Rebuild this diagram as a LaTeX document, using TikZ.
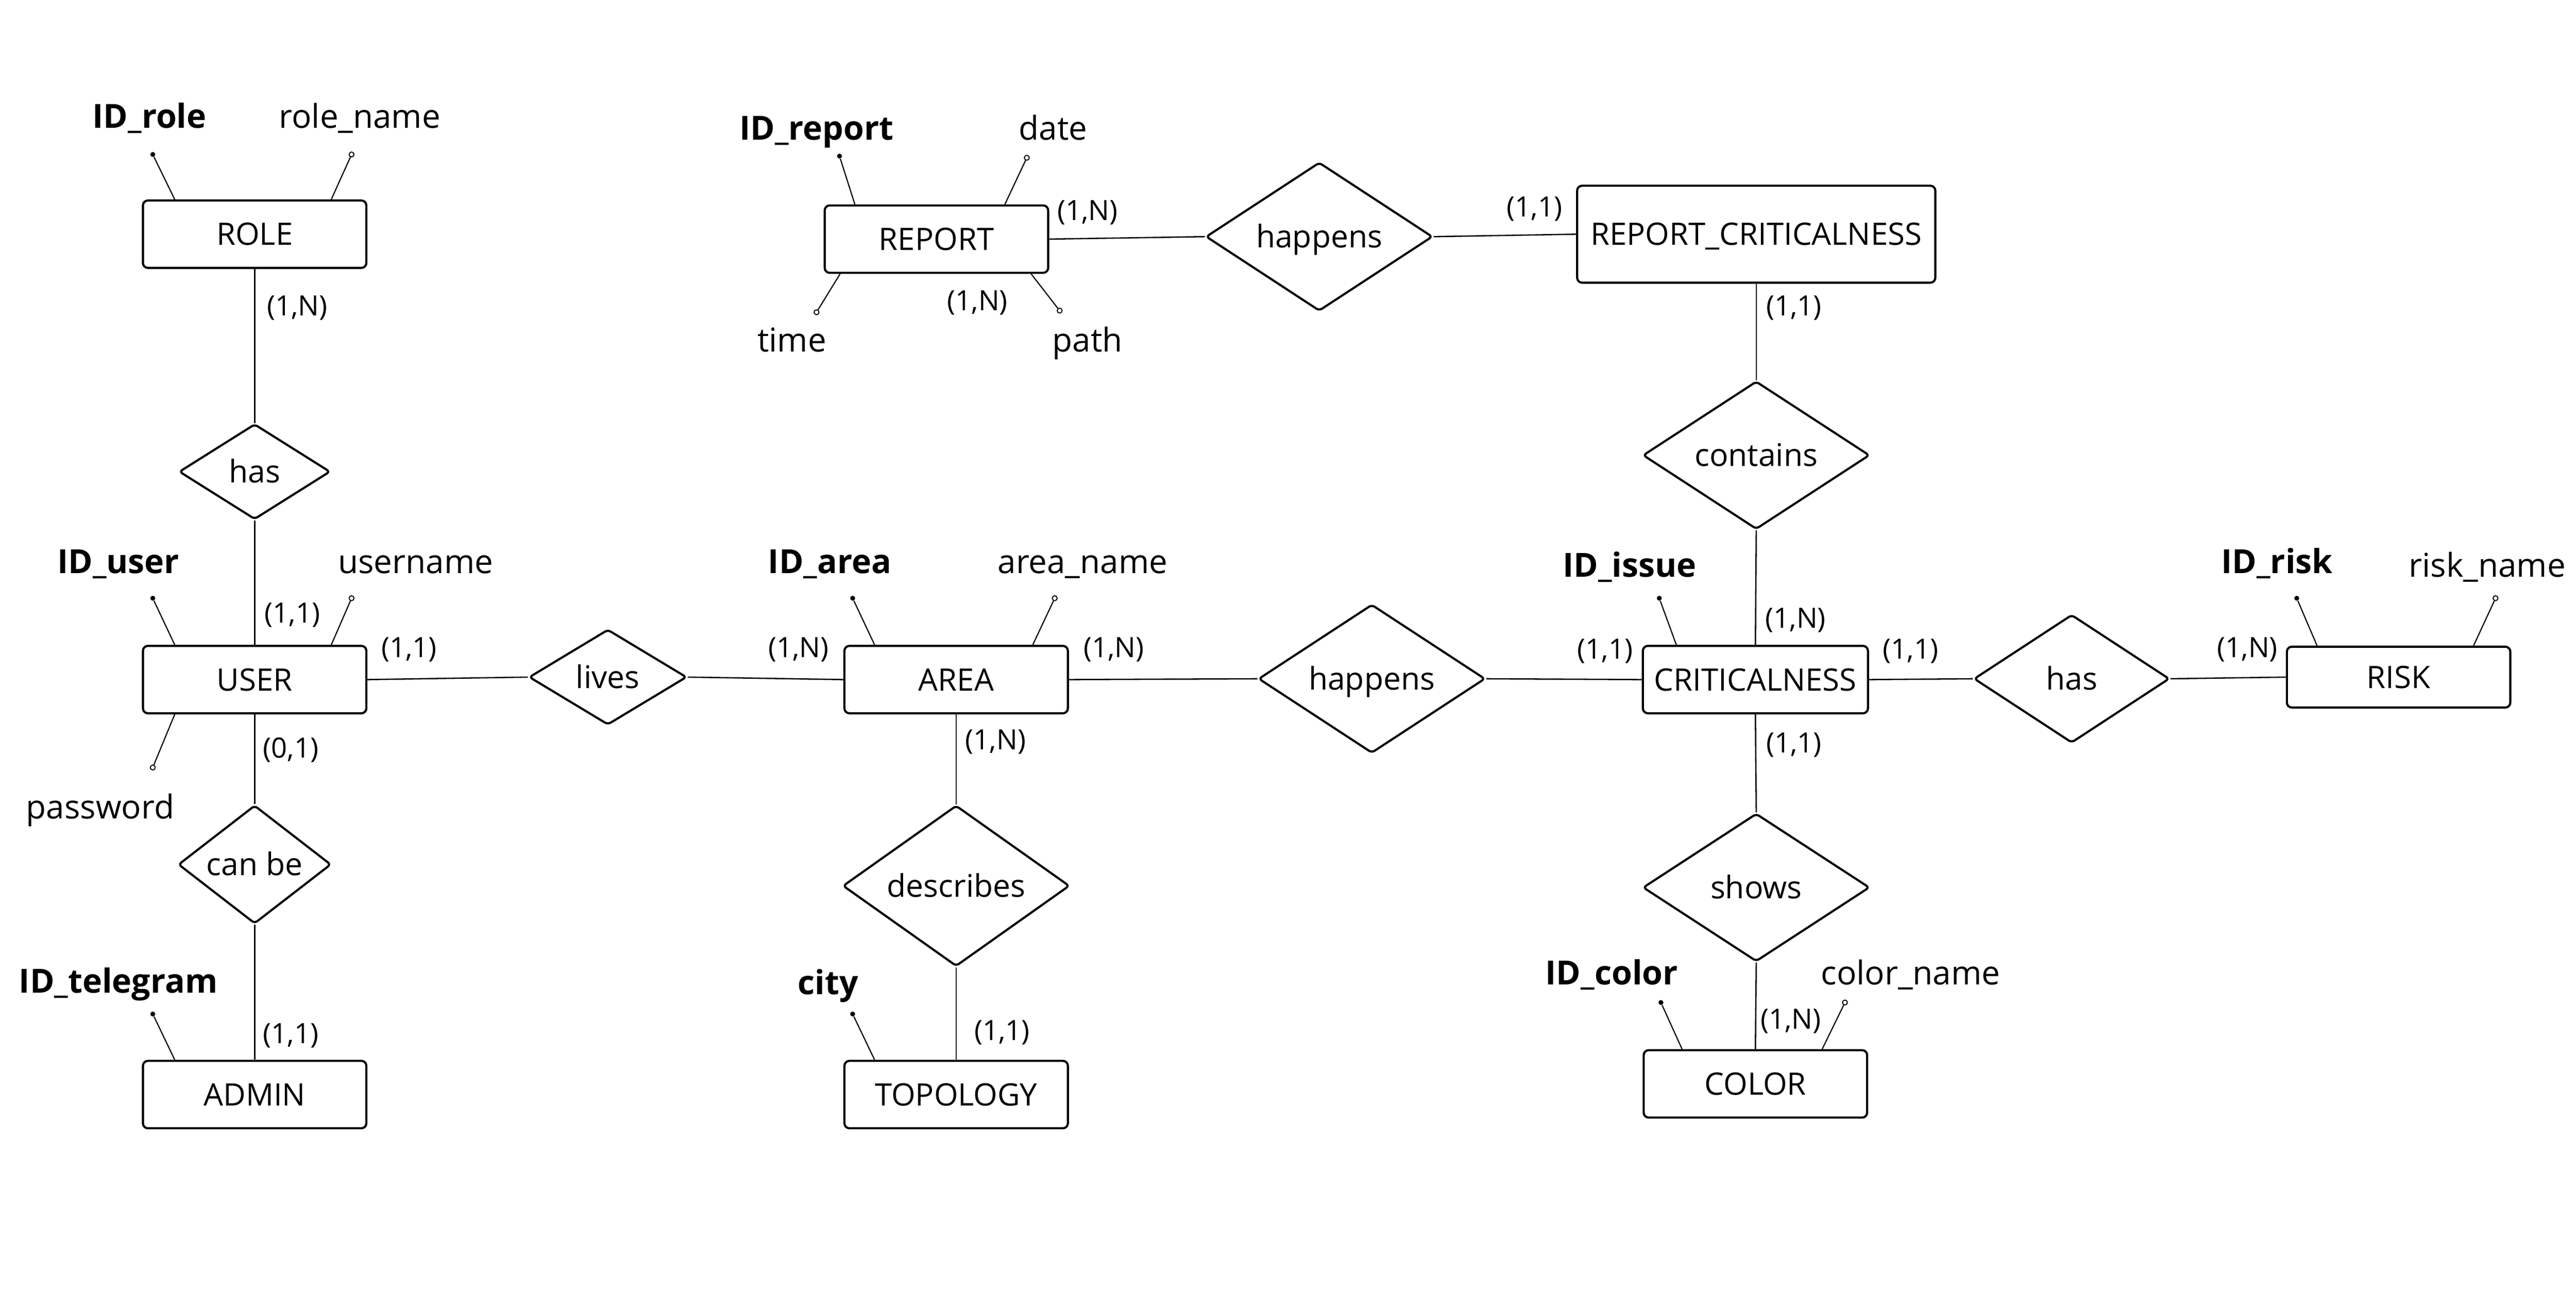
\documentclass[tikz,border=0pt]{standalone}
\usepackage{fontspec}
\setmainfont{Open Sans}
\usetikzlibrary{shapes.geometric}
\begin{document}
\begin{tikzpicture}[x=1pt,y=-1pt,
  entity/.style={draw,rectangle,rounded corners=3pt,line width=1.3pt,inner sep=0pt,
    minimum width=136pt,minimum height=41pt,font=\fontsize{18.8}{20}\selectfont,
    text height=13.5pt,text depth=0pt},
  rel/.style={draw,diamond,rounded corners=2pt,line width=1.3pt,inner sep=0pt,
    minimum width=138pt,minimum height=90pt,font=\fontsize{19}{21}\selectfont,
    text height=13.5pt,text depth=0pt},
  conn/.style={line width=0.8pt},
  attline/.style={line width=0.7pt},
  keydot/.style={circle,fill=black,inner sep=0pt,minimum size=3pt},
  attdot/.style={circle,draw,fill=white,line width=0.6pt,inner sep=0pt,minimum size=3pt},
  keylab/.style={font=\bfseries\fontsize{20.2}{22}\selectfont,inner sep=0pt,text height=14pt,text depth=0pt},
  attlab/.style={font=\fontsize{20}{22}\selectfont,inner sep=0pt,text height=14pt,text depth=0pt},
  card/.style={font=\fontsize{17}{19}\selectfont,inner sep=0pt,text height=12pt,text depth=0pt}
]
\useasboundingbox[fill=white] (0,0) rectangle (1568,784);

% entities
\node[entity] (ROLE) at (155,142.5) {ROLE};
\node[entity] (REPORT) at (570,145.5) {REPORT};
\node[entity,minimum width=218pt,minimum height=59pt] (RC) at (1069,142.5) {REPORT\_CRITICALNESS};
\node[entity] (USER) at (155,413.5) {USER};
\node[entity] (AREA) at (582,413.5) {AREA};
\node[entity,minimum width=137pt] (CRIT) at (1068.5,413.5) {CRITICALNESS};
\node[entity,minimum height=37pt] (RISK) at (1460,412) {RISK};
\node[entity] (ADMIN) at (155,666) {ADMIN};
\node[entity] (TOPO) at (582,666) {TOPOLOGY};
\node[entity] (COLOR) at (1068.5,659.5) {COLOR};

% relationships
\node[rel,minimum width=92pt,minimum height=58pt] (has1) at (155,287) {has};
\node[rel,minimum width=93pt,minimum height=58pt] (canbe) at (155,526) {can be};
\node[rel,minimum width=96pt,minimum height=58pt] (lives) at (370,412) {lives};
\node[rel] (happA) at (835,413) {happens};
\node[rel] (happR) at (803,144) {happens};
\node[rel] (contains) at (1069,277) {contains};
\node[rel] (describes) at (582,539) {describes};
\node[rel] (shows) at (1069,540) {shows};
\node[rel,minimum width=119pt,minimum height=78pt] (has2) at (1261,413) {has};

% connectors
\draw[conn] (ROLE.south) -- (has1.north);
\draw[conn] (has1.south) -- (USER.north);
\draw[conn] (USER.south) -- (canbe.north);
\draw[conn] (canbe.south) -- (ADMIN.north);
\draw[conn] (USER.east) -- (lives.west);
\draw[conn] (lives.east) -- (AREA.west);
\draw[conn] (AREA.east) -- (happA.west);
\draw[conn] (happA.east) -- (CRIT.west);
\draw[conn] (CRIT.east) -- (has2.west);
\draw[conn] (has2.east) -- (RISK.west);
\draw[conn] (AREA.south) -- (describes.north);
\draw[conn] (describes.south) -- (TOPO.north);
\draw[conn] (CRIT.south) -- (shows.north);
\draw[conn] (shows.south) -- (COLOR.north);
\draw[conn] (CRIT.north) -- (contains.south);
\draw[conn] (contains.north) -- (RC.south);
\draw[conn] (REPORT.east) -- (happR.west);
\draw[conn] (happR.east) -- (RC.west);

% attribute dots
\node[keydot] (dRoleId) at (93,94) {};
\node[attdot] (dRoleName) at (214,94) {};
\node[keydot] (dRepId) at (511,95) {};
\node[attdot] (dRepDate) at (625,96) {};
\node[attdot] (dRepTime) at (497,190) {};
\node[attdot] (dRepPath) at (645,189) {};
\node[keydot] (dUserId) at (93,364) {};
\node[attdot] (dUserName) at (214,364) {};
\node[attdot] (dUserPw) at (93,467) {};
\node[keydot] (dAreaId) at (519,364) {};
\node[attdot] (dAreaName) at (642,364) {};
\node[keydot] (dIssueId) at (1010,364) {};
\node[keydot] (dRiskId) at (1398,364) {};
\node[attdot] (dRiskName) at (1519,364) {};
\node[keydot] (dTgId) at (93,617) {};
\node[keydot] (dCity) at (519,617) {};
\node[keydot] (dColorId) at (1011,610) {};
\node[attdot] (dColorName) at (1123,610) {};

% attribute lines
\draw[attline] ([xshift=20pt]ROLE.north west) -- (dRoleId);
\draw[attline] ([xshift=-22pt]ROLE.north east) -- (dRoleName);
\draw[attline] ([xshift=19pt]REPORT.north west) -- (dRepId);
\draw[attline] ([xshift=-27pt]REPORT.north east) -- (dRepDate);
\draw[attline] ([xshift=10pt]REPORT.south west) -- (dRepTime);
\draw[attline] ([xshift=-11pt]REPORT.south east) -- (dRepPath);
\draw[attline] ([xshift=20pt]USER.north west) -- (dUserId);
\draw[attline] ([xshift=-22pt]USER.north east) -- (dUserName);
\draw[attline] ([xshift=20pt]USER.south west) -- (dUserPw);
\draw[attline] ([xshift=19pt]AREA.north west) -- (dAreaId);
\draw[attline] ([xshift=-22pt]AREA.north east) -- (dAreaName);
\draw[attline] ([xshift=21pt]CRIT.north west) -- (dIssueId);
\draw[attline] ([xshift=19pt]RISK.north west) -- (dRiskId);
\draw[attline] ([xshift=-23pt]RISK.north east) -- (dRiskName);
\draw[attline] ([xshift=20pt]ADMIN.north west) -- (dTgId);
\draw[attline] ([xshift=19pt]TOPO.north west) -- (dCity);
\draw[attline] ([xshift=24pt]COLOR.north west) -- (dColorId);
\draw[attline] ([xshift=-28pt]COLOR.north east) -- (dColorName);

% attribute labels
\node[keylab] (lRoleId) at (91,71) {ID\_role};
\node[attlab] (lRoleName) at (219,71) {role\_name};
\node[keylab] (lRepId) at (497,78) {ID\_report};
\node[attlab] (lRepDate) at (641,78) {date};
\node[attlab] (lRepTime) at (482,207) {time};
\node[attlab] (lRepPath) at (662,207) {path};
\node[keylab] (lUserId) at (72,342) {ID\_user};
\node[attlab] (lUserName) at (253,342) {username};
\node[attlab] (lUserPw) at (61,491) {password};
\node[keylab] (lAreaId) at (505,342) {ID\_area};
\node[attlab] (lAreaName) at (659,342) {area\_name};
\node[keylab] (lIssueId) at (992,344) {ID\_issue};
\node[keylab] (lRiskId) at (1386,342) {ID\_risk};
\node[attlab] (lRiskName) at (1514,344) {risk\_name};
\node[keylab] (lTgId) at (72,597) {ID\_telegram};
\node[keylab] (lCity) at (504,598) {city};
\node[keylab] (lColorId) at (981,592) {ID\_color};
\node[attlab] (lColorName) at (1163,592) {color\_name};

% cardinalities
\node[card] (c1) at (181,186) {(1,N)};
\node[card] (c2) at (178,373) {(1,1)};
\node[card] (c3) at (249,394) {(1,1)};
\node[card] (c4) at (177,455) {(0,1)};
\node[card] (c5) at (177,629) {(1,1)};
\node[card] (c6) at (486,394) {(1,N)};
\node[card] (c7) at (678,394) {(1,N)};
\node[card] (c8) at (606,450) {(1,N)};
\node[card] (c9) at (610,627) {(1,1)};
\node[card] (c10) at (662,128) {(1,N)};
\node[card] (c11) at (595,183) {(1,N)};
\node[card] (c12) at (934,126) {(1,1)};
\node[card] (c13) at (1092,186) {(1,1)};
\node[card] (c14) at (1093,376) {(1,N)};
\node[card] (c15) at (977,395) {(1,1)};
\node[card] (c16) at (1163,395) {(1,1)};
\node[card] (c17) at (1092,452) {(1,1)};
\node[card] (c18) at (1090,620) {(1,N)};
\node[card] (c19) at (1368,394) {(1,N)};
\end{tikzpicture}
\end{document}
